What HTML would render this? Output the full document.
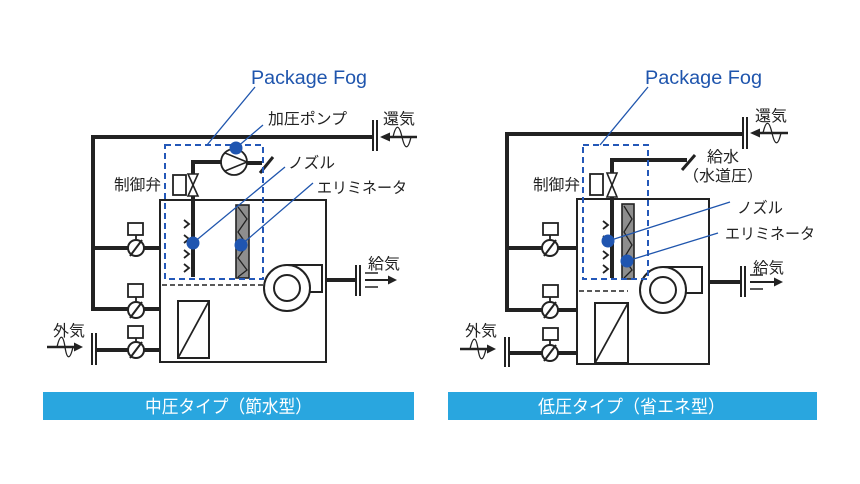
<!DOCTYPE html>
<html><head><meta charset="utf-8"><style>
html,body{margin:0;padding:0;background:#fff;}
svg{display:block;}
.t{font-family:"Liberation Sans","Noto Sans CJK JP",sans-serif;fill:#222;font-size:15.5px;}
.b{font-family:"Liberation Sans","Noto Sans CJK JP",sans-serif;fill:#fff;font-size:18px;}
.pf{font-family:"Liberation Sans",sans-serif;fill:#1f55ad;font-size:19px;}
</style></head><body>
<svg width="860" height="484" viewBox="0 0 860 484" xmlns="http://www.w3.org/2000/svg">
<rect width="860" height="484" fill="#fff"/>

<!-- ================= LEFT ================= -->
<g fill="none" stroke="#222" stroke-linecap="butt">
  <!-- main box -->
  <rect x="160" y="200" width="166" height="162" stroke-width="2"/>
  <!-- thick pipes -->
  <polyline points="373,137 93,137 93,309 160,309" stroke-width="4"/>
  <line x1="93" y1="248" x2="160" y2="248" stroke-width="4"/>
  <line x1="96" y1="350" x2="160" y2="350" stroke-width="4"/>
  <line x1="326" y1="280" x2="356" y2="280" stroke-width="4"/>
  <!-- water pipe -->
  <polyline points="221,162 193,162 193,174" stroke-width="4"/>
  <line x1="193" y1="196" x2="193" y2="277" stroke-width="4"/>
  <line x1="247" y1="163" x2="262" y2="163" stroke-width="4"/>
  <line x1="260" y1="173" x2="273" y2="157" stroke-width="3"/>
  <!-- flanges -->
  <line x1="373" y1="120" x2="373" y2="151" stroke-width="2"/>
  <line x1="377" y1="120" x2="377" y2="151" stroke-width="2"/>
  <line x1="356" y1="265" x2="356" y2="296" stroke-width="2"/>
  <line x1="360" y1="265" x2="360" y2="296" stroke-width="2"/>
  <line x1="92" y1="333" x2="92" y2="365" stroke-width="2"/>
  <line x1="96" y1="333" x2="96" y2="365" stroke-width="2"/>
  <!-- 還気 arrow -->
  <line x1="417" y1="137" x2="387" y2="137" stroke-width="2.5"/>
  <path d="M393,137 C396,124 399,124 402,137 S408,150 411,137" stroke-width="1.3"/>
  <!-- 給気 arrow -->
  <line x1="365" y1="280" x2="390" y2="280" stroke-width="2"/>
  <line x1="365" y1="273" x2="378" y2="273" stroke-width="1.5"/>
  <line x1="365" y1="287" x2="378" y2="287" stroke-width="1.5"/>
  <!-- 外気 arrow -->
  <line x1="47" y1="347" x2="76" y2="347" stroke-width="2.5"/>
  <path d="M57,347 C60,334 63,334 65,347 S70,360 73,347" stroke-width="1.3"/>
  <!-- dashed black line -->
  <line x1="162" y1="285" x2="263" y2="285" stroke-width="1.5" stroke-dasharray="5,3"/>
  <!-- fan -->
  <polyline points="287,265 322,265 322,292 309,292" stroke-width="2"/>
  <circle cx="287" cy="288" r="23" stroke-width="2" fill="#fff"/>
  <circle cx="287" cy="288" r="13" stroke-width="2"/>
  <!-- coil -->
  <rect x="178" y="301" width="31" height="57" stroke-width="2"/>
  <line x1="178" y1="358" x2="209" y2="301" stroke-width="1.8"/>
  <!-- pump -->
  <circle cx="234" cy="162" r="13" stroke-width="1.8" fill="#fff"/>
  <polyline points="225,153 247,162 225,171" stroke-width="1.6"/>
  <!-- control valve -->
  <rect x="173" y="175" width="13" height="20" stroke-width="1.8" fill="#fff"/>
  <polygon points="188,174 198,174 193,185" stroke-width="1.6" fill="#fff"/>
  <polygon points="188,196 198,196 193,185" stroke-width="1.6" fill="#fff"/>
  <!-- dampers -->
  <rect x="128" y="223" width="15" height="12" stroke-width="1.8" fill="#fff"/>
  <line x1="136" y1="235" x2="136" y2="240" stroke-width="1.8"/>
  <circle cx="136" cy="248" r="8" stroke-width="2" fill="#fff"/>
  <line x1="130" y1="256" x2="142" y2="240" stroke-width="2"/>
  <rect x="128" y="284" width="15" height="13" stroke-width="1.8" fill="#fff"/>
  <line x1="136" y1="297" x2="136" y2="302" stroke-width="1.8"/>
  <circle cx="136" cy="310" r="8" stroke-width="2" fill="#fff"/>
  <line x1="130" y1="318" x2="142" y2="302" stroke-width="2"/>
  <rect x="128" y="326" width="15" height="12" stroke-width="1.8" fill="#fff"/>
  <line x1="136" y1="338" x2="136" y2="342" stroke-width="1.8"/>
  <circle cx="136" cy="350" r="8" stroke-width="2" fill="#fff"/>
  <line x1="130" y1="358" x2="142" y2="342" stroke-width="2"/>
  <!-- nozzles -->
  <polyline points="184,220 189,224 184,228" stroke-width="1.8"/>
  <polyline points="184,235 189,239 184,243" stroke-width="1.8"/>
  <polyline points="184,250 189,254 184,258" stroke-width="1.8"/>
  <polyline points="184,264 189,268 184,272" stroke-width="1.8"/>
  <!-- eliminator -->
  <rect x="236" y="205" width="13" height="73" fill="#8e8e8e" stroke-width="1.6"/>
  <polyline points="238,207 247,219 238,232 247,245 238,258 247,270 238,277" stroke-width="1.3"/>
</g>
<g fill="#222">
  <polygon points="380,137 390,132.5 390,141.5"/>
  <polygon points="397,280 388,275.5 388,284.5"/>
  <polygon points="83,347 74,342.5 74,351.5"/>
</g>
<!-- blue dashed box -->
<rect x="165" y="145" width="98" height="134" fill="none" stroke="#2458b8" stroke-width="2" stroke-dasharray="6,4"/>
<!-- leaders -->
<g stroke="#1f55ad" stroke-width="1.3" fill="none">
  <line x1="255" y1="87" x2="207" y2="145"/>
  <line x1="263" y1="125" x2="236" y2="148"/>
  <line x1="285" y1="167" x2="193" y2="243"/>
  <line x1="313" y1="183" x2="241" y2="245"/>
</g>
<g fill="#1f55b0">
  <circle cx="236" cy="148" r="6.5"/>
  <circle cx="193" cy="243" r="6.5"/>
  <circle cx="241" cy="245" r="6.5"/>
</g>
<text class="pf" x="251" y="84" textLength="116" lengthAdjust="spacingAndGlyphs">Package Fog</text>
<text class="t" x="268" y="124" textLength="79" lengthAdjust="spacingAndGlyphs">加圧ポンプ</text>
<text class="t" x="383" y="124" textLength="32" lengthAdjust="spacingAndGlyphs">還気</text>
<text class="t" x="288" y="168" textLength="47" lengthAdjust="spacingAndGlyphs">ノズル</text>
<text class="t" x="317" y="193" textLength="90" lengthAdjust="spacingAndGlyphs">エリミネータ</text>
<text class="t" x="114" y="190" textLength="47" lengthAdjust="spacingAndGlyphs">制御弁</text>
<text class="t" x="368" y="269" textLength="32" lengthAdjust="spacingAndGlyphs">給気</text>
<text class="t" x="53" y="336" textLength="32" lengthAdjust="spacingAndGlyphs">外気</text>
<rect x="43" y="392" width="371" height="28" fill="#29a6df"/>
<text class="b" x="145" y="413" textLength="167" lengthAdjust="spacingAndGlyphs">中圧タイプ（節水型）</text>

<!-- ================= RIGHT ================= -->
<g fill="none" stroke="#222" stroke-linecap="butt">
  <rect x="577" y="199" width="132" height="165" stroke-width="2"/>
  <polyline points="743,134 507,134 507,310 577,310" stroke-width="4"/>
  <line x1="507" y1="248" x2="577" y2="248" stroke-width="4"/>
  <line x1="509" y1="353" x2="577" y2="353" stroke-width="4"/>
  <line x1="709" y1="282" x2="741" y2="282" stroke-width="4"/>
  <!-- water pipe -->
  <polyline points="687,160 612,160 612,173" stroke-width="4"/>
  <line x1="612" y1="197" x2="612" y2="278" stroke-width="4"/>
  <line x1="682" y1="170" x2="695" y2="155" stroke-width="3"/>
  <!-- flanges -->
  <line x1="743" y1="117" x2="743" y2="149" stroke-width="2"/>
  <line x1="747" y1="117" x2="747" y2="149" stroke-width="2"/>
  <line x1="741" y1="266" x2="741" y2="297" stroke-width="2"/>
  <line x1="745" y1="266" x2="745" y2="297" stroke-width="2"/>
  <line x1="505" y1="337" x2="505" y2="367" stroke-width="2"/>
  <line x1="509" y1="337" x2="509" y2="367" stroke-width="2"/>
  <!-- 還気 arrow -->
  <line x1="788" y1="133" x2="757" y2="133" stroke-width="2.5"/>
  <path d="M763,133 C766,120 769,120 772,133 S778,146 781,133" stroke-width="1.3"/>
  <!-- 給気 arrow -->
  <line x1="750" y1="282" x2="776" y2="282" stroke-width="2"/>
  <line x1="750" y1="275" x2="763" y2="275" stroke-width="1.5"/>
  <line x1="750" y1="289" x2="763" y2="289" stroke-width="1.5"/>
  <!-- 外気 arrow -->
  <line x1="460" y1="349" x2="489" y2="349" stroke-width="2.5"/>
  <path d="M470,349 C473,336 476,336 478,349 S483,362 486,349" stroke-width="1.3"/>
  <!-- dashed black -->
  <line x1="579" y1="291" x2="628" y2="291" stroke-width="1.5" stroke-dasharray="5,3"/>
  <!-- fan -->
  <polyline points="663,267 702,267 702,293 686,293" stroke-width="2"/>
  <circle cx="663" cy="290" r="23" stroke-width="2" fill="#fff"/>
  <circle cx="663" cy="290" r="13" stroke-width="2"/>
  <!-- coil -->
  <rect x="595" y="303" width="33" height="60" stroke-width="2"/>
  <line x1="595" y1="363" x2="628" y2="303" stroke-width="1.8"/>
  <!-- control valve -->
  <rect x="590" y="174" width="13" height="21" stroke-width="1.8" fill="#fff"/>
  <polygon points="607,173 617,173 612,185" stroke-width="1.6" fill="#fff"/>
  <polygon points="607,197 617,197 612,185" stroke-width="1.6" fill="#fff"/>
  <!-- dampers -->
  <rect x="543" y="223" width="15" height="12" stroke-width="1.8" fill="#fff"/>
  <line x1="550" y1="235" x2="550" y2="240" stroke-width="1.8"/>
  <circle cx="550" cy="248" r="8" stroke-width="2" fill="#fff"/>
  <line x1="544" y1="256" x2="556" y2="240" stroke-width="2"/>
  <rect x="543" y="285" width="15" height="12" stroke-width="1.8" fill="#fff"/>
  <line x1="550" y1="297" x2="550" y2="302" stroke-width="1.8"/>
  <circle cx="550" cy="310" r="8" stroke-width="2" fill="#fff"/>
  <line x1="544" y1="318" x2="556" y2="302" stroke-width="2"/>
  <rect x="543" y="328" width="15" height="12" stroke-width="1.8" fill="#fff"/>
  <line x1="550" y1="340" x2="550" y2="345" stroke-width="1.8"/>
  <circle cx="550" cy="353" r="8" stroke-width="2" fill="#fff"/>
  <line x1="544" y1="361" x2="556" y2="345" stroke-width="2"/>
  <!-- nozzles -->
  <polyline points="603,221 608,225 603,229" stroke-width="1.8"/>
  <polyline points="603,236 608,240 603,244" stroke-width="1.8"/>
  <polyline points="603,251 608,255 603,259" stroke-width="1.8"/>
  <polyline points="603,265 608,269 603,273" stroke-width="1.8"/>
  <!-- eliminator -->
  <rect x="622" y="204" width="12" height="75" fill="#8e8e8e" stroke-width="1.6"/>
  <polyline points="624,206 632,219 624,232 632,245 624,258 632,270 624,278" stroke-width="1.3"/>
</g>
<g fill="#222">
  <polygon points="750,133 760,128.5 760,137.5"/>
  <polygon points="783,282 774,277.5 774,286.5"/>
  <polygon points="496,349 487,344.5 487,353.5"/>
</g>
<rect x="583" y="145" width="65" height="134" fill="none" stroke="#2458b8" stroke-width="2" stroke-dasharray="6,4"/>
<g stroke="#1f55ad" stroke-width="1.3" fill="none">
  <line x1="648" y1="87" x2="600" y2="145"/>
  <line x1="730" y1="202" x2="608" y2="241"/>
  <line x1="718" y1="233" x2="627" y2="261"/>
</g>
<g fill="#1f55b0">
  <circle cx="608" cy="241" r="6.5"/>
  <circle cx="627" cy="261" r="6.5"/>
</g>
<text class="pf" x="645" y="84" textLength="117" lengthAdjust="spacingAndGlyphs">Package Fog</text>
<text class="t" x="755" y="121" textLength="32" lengthAdjust="spacingAndGlyphs">還気</text>
<text class="t" x="707" y="162" textLength="32" lengthAdjust="spacingAndGlyphs">給水</text>
<text class="t" x="683" y="181" textLength="80" lengthAdjust="spacingAndGlyphs">（水道圧）</text>
<text class="t" x="737" y="213" textLength="46" lengthAdjust="spacingAndGlyphs">ノズル</text>
<text class="t" x="725" y="239" textLength="90" lengthAdjust="spacingAndGlyphs">エリミネータ</text>
<text class="t" x="533" y="190" textLength="47" lengthAdjust="spacingAndGlyphs">制御弁</text>
<text class="t" x="753" y="273" textLength="31" lengthAdjust="spacingAndGlyphs">給気</text>
<text class="t" x="465" y="336" textLength="32" lengthAdjust="spacingAndGlyphs">外気</text>
<rect x="448" y="392" width="369" height="28" fill="#29a6df"/>
<text class="b" x="538" y="413" textLength="187" lengthAdjust="spacingAndGlyphs">低圧タイプ（省エネ型）</text>
</svg>
</body></html>
